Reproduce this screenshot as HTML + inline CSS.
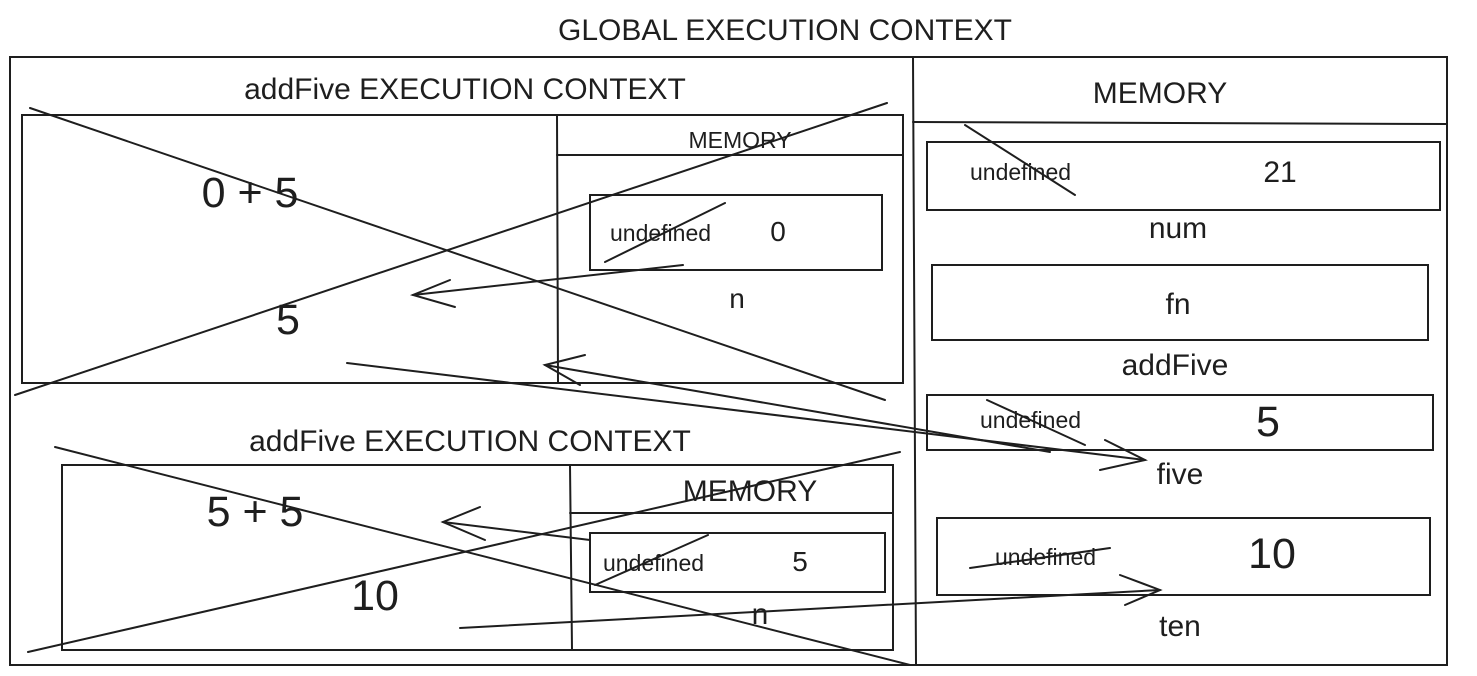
<!DOCTYPE html>
<html><head><meta charset="utf-8"><style>
html,body{margin:0;padding:0;background:#fff;}
svg{display:block;}
text{font-family:"Liberation Sans",Arial,sans-serif;fill:#1e1e1e;}
</style></head><body>
<svg width="1477" height="676" viewBox="0 0 1477 676" xmlns="http://www.w3.org/2000/svg">
<g stroke="#1e1e1e" stroke-width="2" fill="none" stroke-linecap="round">
<rect x="10" y="57" width="1437" height="608"/>
<line x1="913" y1="57" x2="916" y2="665"/>
<line x1="913" y1="122" x2="1447" y2="124"/>
<rect x="22" y="115" width="881" height="268"/>
<line x1="557" y1="115" x2="558" y2="383"/>
<line x1="557" y1="155" x2="903" y2="155"/>
<rect x="590" y="195" width="292" height="75"/>
<rect x="62" y="465" width="831" height="185"/>
<line x1="570" y1="465" x2="572" y2="650"/>
<line x1="570" y1="513" x2="893" y2="513"/>
<rect x="590" y="533" width="295" height="59"/>
<rect x="927" y="142" width="513" height="68"/>
<rect x="932" y="265" width="496" height="75"/>
<rect x="927" y="395" width="506" height="55"/>
<rect x="937" y="518" width="493" height="77"/>
<line x1="30" y1="108" x2="885" y2="400"/>
<line x1="15" y1="395" x2="887" y2="103"/>
<line x1="55" y1="447" x2="910" y2="665"/>
<line x1="28" y1="652" x2="900" y2="452"/>
<line x1="965" y1="125" x2="1075" y2="195"/>
<line x1="987" y1="400" x2="1085" y2="445"/>
<line x1="970" y1="568" x2="1110" y2="548"/>
<line x1="605" y1="262" x2="725" y2="203"/>
<line x1="595" y1="585" x2="708" y2="535"/>
<line x1="683" y1="265" x2="413" y2="295"/>
<polyline points="450,280 413,295 455,307"/>
<line x1="347" y1="363" x2="1145" y2="460"/>
<polyline points="1105,440 1145,460 1100,470"/>
<line x1="1050" y1="452" x2="545" y2="365"/>
<polyline points="585,355 545,365 580,385"/>
<line x1="590" y1="540" x2="443" y2="522"/>
<polyline points="480,507 443,522 485,540"/>
<line x1="460" y1="628" x2="1160" y2="590"/>
<polyline points="1120,575 1160,590 1125,605"/>
</g>
<text x="785" y="40" font-size="30" text-anchor="middle">GLOBAL EXECUTION CONTEXT</text>
<text x="1160" y="103" font-size="30" text-anchor="middle">MEMORY</text>
<text x="465" y="99" font-size="30" text-anchor="middle">addFive EXECUTION CONTEXT</text>
<text x="740" y="148" font-size="23" text-anchor="middle">MEMORY</text>
<text x="610" y="241" font-size="23">undefined</text>
<text x="778" y="241" font-size="28" text-anchor="middle">0</text>
<text x="737" y="308" font-size="28" text-anchor="middle">n</text>
<text x="250" y="207" font-size="43" text-anchor="middle">0 + 5</text>
<text x="288" y="334" font-size="43" text-anchor="middle">5</text>
<text x="470" y="451" font-size="30" text-anchor="middle">addFive EXECUTION CONTEXT</text>
<text x="750" y="501" font-size="30" text-anchor="middle">MEMORY</text>
<text x="603" y="571" font-size="23">undefined</text>
<text x="800" y="571" font-size="28" text-anchor="middle">5</text>
<text x="760" y="624" font-size="30" text-anchor="middle">n</text>
<text x="255" y="526" font-size="43" text-anchor="middle">5 + 5</text>
<text x="375" y="610" font-size="43" text-anchor="middle">10</text>
<text x="970" y="180" font-size="23">undefined</text>
<text x="1280" y="182" font-size="30" text-anchor="middle">21</text>
<text x="1178" y="238" font-size="30" text-anchor="middle">num</text>
<text x="1178" y="314" font-size="30" text-anchor="middle">fn</text>
<text x="1175" y="375" font-size="30" text-anchor="middle">addFive</text>
<text x="980" y="428" font-size="23">undefined</text>
<text x="1268" y="436" font-size="43" text-anchor="middle">5</text>
<text x="1180" y="484" font-size="30" text-anchor="middle">five</text>
<text x="995" y="565" font-size="23">undefined</text>
<text x="1272" y="568" font-size="43" text-anchor="middle">10</text>
<text x="1180" y="636" font-size="30" text-anchor="middle">ten</text>
</svg>
</body></html>
